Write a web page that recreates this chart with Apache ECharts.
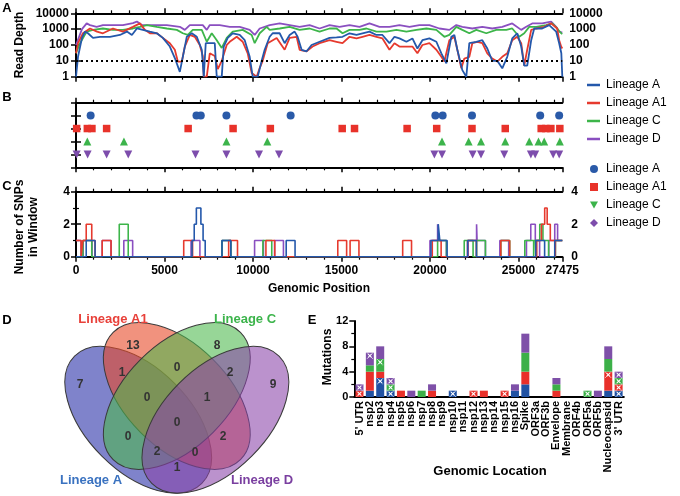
<!DOCTYPE html>
<html><head><meta charset="utf-8">
<script src="https://cdn.jsdelivr.net/npm/echarts@6/dist/echarts.min.js"></script>
<style>html,body{margin:0;padding:0;background:#fff}#c{width:680px;height:496px}</style>
</head><body><div id="c"></div>
<script>
// ---------- DATA ----------
const lineages = ['Lineage A', 'Lineage A1', 'Lineage C', 'Lineage D'];
const genomeLength = 27475;
const depthTicks = [1, 10, 100, 1000, 10000];

// Panel A: read depth, [genomic position, depth]
const depthA = [[0,1],[113,18],[338,280],[508,700],[677,550],[959,280],[1354,330],[1918,330],[2482,430],[2876,700],[3158,430],[3440,1100],[3779,900],[4174,700],[4568,550],[4907,280],[5302,80],[5584,15],[5866,2],[6035,18],[6260,330],[6542,550],[6824,330],[7106,50],[7219,1],[7330,130],[7840,130],[7952,1],[8234,1],[8347,80],[8573,280],[8855,550],[9250,430],[9532,200],[9814,18],[9983,1],[10265,1],[10490,10],[10660,50],[10942,330],[11111,550],[11506,550],[11788,130],[12070,430],[12352,700],[12521,330],[12746,50],[13028,40],[13310,100],[13762,160],[14326,280],[14720,300],[15059,330],[15454,550],[15848,430],[16187,550],[16582,700],[16976,430],[17315,430],[17710,130],[17992,330],[18274,260],[18668,160],[19007,260],[19289,60],[19571,200],[19966,260],[20360,160],[20642,30],[20924,7],[21206,330],[21376,430],[21545,50],[21827,2.6],[22052,1],[22222,130],[22616,160],[22955,200],[23237,60],[23519,10],[23801,10],[24083,3.4],[24365,18],[24647,260],[24929,550],[25154,80],[25324,5],[25493,5],[25718,200],[25888,1100],[26339,1100],[26734,1800],[27128,700],[27298,130],[27420,30],[27475,1]];
const depthA1 = [[0,30],[113,130],[395,550],[790,1100],[1184,700],[1523,550],[2087,1100],[2651,700],[3215,1400],[3610,2300],[3892,900],[4174,550],[4568,550],[4907,280],[5302,130],[5584,50],[5753,9],[5978,9],[6148,80],[6430,430],[6712,330],[6994,100],[7163,20],[7219,1],[7388,1],[7558,30],[7840,20],[8010,3],[8234,10],[8516,100],[8686,160],[9080,330],[9419,160],[9701,30],[9926,1.7],[10208,1],[10378,3.5],[10547,10],[10829,130],[11336,280],[11788,50],[12070,280],[12464,330],[12634,50],[13028,40],[13367,80],[13762,130],[14326,200],[14720,160],[15059,130],[15454,330],[15848,260],[16187,330],[16582,430],[16976,330],[17315,260],[17710,50],[17992,130],[18274,80],[19007,80],[19289,30],[19571,100],[19966,130],[20360,50],[20642,18],[20812,9],[21094,200],[21376,330],[21545,50],[21770,3.4],[21940,14],[22222,18],[22391,130],[22672,160],[22955,130],[23237,30],[23519,14],[23801,9],[24083,18],[24365,30],[24647,200],[24929,330],[25154,130],[25324,5],[25493,50],[25718,900],[25999,1100],[26452,1400],[26846,2300],[27185,1100],[27298,200],[27410,80],[27475,60]];
const depthC = [[0,30],[226,130],[603,700],[959,900],[1523,1100],[2087,900],[2651,900],[3215,1100],[3610,1400],[4004,1800],[4568,1400],[5132,1100],[5696,900],[6035,550],[6317,430],[6599,900],[7106,900],[7388,160],[7670,550],[7952,200],[8234,65],[8516,280],[8855,700],[9419,900],[9926,430],[10096,130],[10378,550],[10772,1400],[10942,900],[11506,1100],[12070,1400],[12634,900],[13198,1100],[13762,700],[14326,1100],[14720,1100],[15059,550],[15454,900],[16018,900],[16412,1100],[16976,700],[17540,700],[18104,900],[18668,700],[19232,900],[19796,1100],[20360,900],[20812,330],[21094,430],[21488,1400],[21827,900],[22222,550],[22616,900],[23180,550],[23744,900],[24308,900],[24647,1100],[25042,330],[25324,550],[25606,1400],[25999,1400],[26564,1800],[26903,2300],[27185,1100],[27410,550],[27475,500]];
const depthD = [[0,100],[338,1000],[603,2300],[790,1800],[1167,1400],[1523,1800],[2087,1800],[2651,1800],[3215,2400],[3440,3000],[3722,1800],[4004,1800],[4568,1800],[5132,1800],[5866,1400],[6148,900],[6430,1800],[7163,1800],[7388,900],[7558,1800],[8122,1800],[8686,1400],[9250,1400],[9814,900],[10096,430],[10378,1100],[10942,1800],[11506,2300],[12070,1800],[12634,1400],[13198,1800],[13762,1100],[14326,1800],[14890,1400],[15454,1800],[16018,1400],[16582,2300],[17146,1400],[17710,1400],[18274,1800],[18838,1400],[19402,1800],[19966,1800],[20530,1100],[21094,900],[21488,1800],[21827,1400],[22391,1100],[22955,1400],[23519,1100],[24083,1400],[24647,2300],[25154,900],[25436,1400],[25775,2300],[26339,2300],[26846,3000],[27128,1400],[27298,700],[27475,600]];
const depthThreshold = 10;

// Panel B: SNP positions
const snpA = [827, 6806, 7050, 8498, 12126, 20304, 20716, 22373, 26226, 27298];
const snpA1 = [37, 640, 900, 1730, 6336, 8875, 10980, 15040, 15736, 18707, 20379, 22373, 24252, 26282, 26547, 26829, 27336];
const snpC = [640, 2707, 8498, 10810, 20680, 22184, 22882, 24252, 25606, 26131, 26452, 27336];
const snpD = [37, 658, 1730, 2951, 6750, 8498, 10340, 11470, 20248, 20680, 22410, 22882, 24196, 25700, 25944, 26959, 27298];

// Panel C: SNPs in window, [position where count changes, new count]
const winA = [[0,0],[577,1],[1077,0],[6556,1],[6680,2],[6800,3],[7056,2],[7180,1],[7300,0],[8248,1],[8748,0],[11876,1],[12376,0],[20054,1],[20466,2],[20554,1],[20966,0],[22123,1],[22623,0],[25976,1],[26476,0],[27048,1],[27475,1]];
const winA1 = [[0,1],[287,0],[390,1],[577,2],[890,1],[1077,0],[1480,1],[1980,0],[6086,1],[6586,0],[8625,1],[9125,0],[10730,1],[11230,0],[14790,1],[15290,0],[15486,1],[15986,0],[18457,1],[18957,0],[20129,1],[20629,0],[22123,1],[22623,0],[24002,1],[24502,0],[26032,1],[26297,2],[26480,3],[26620,2],[26797,1],[27079,0],[27086,1],[27475,1]];
const winC = [[0,0],[390,1],[890,0],[2444,2],[2951,0],[8248,1],[8748,0],[10560,1],[11060,0],[20430,1],[20930,0],[21934,1],[22434,0],[22632,1],[23132,0],[24002,1],[24502,0],[25356,1],[25856,0],[25881,1],[26202,2],[26381,1],[26702,0],[27086,1],[27475,1]];
const winD = [[0,1],[287,0],[408,1],[908,0],[1480,1],[1980,0],[2701,1],[3201,0],[6500,1],[7000,0],[8248,1],[8748,0],[10090,1],[10590,0],[11220,1],[11720,0],[19998,1],[20430,2],[20498,1],[20930,0],[22160,1],[22632,2],[22660,1],[23132,0],[23946,1],[24446,0],[25450,1],[25694,2],[25950,1],[26194,0],[26709,1],[27048,2],[27209,1],[27475,1]];

// Panel D: Venn region counts
const vennRegions = ['A','A1','C','D','A+A1','A1+C','C+D','A+A1+C','A1+C+D','A+A1+C+D','A+C','A1+D','A+C+D','A+A1+D','A+D'];
const vennCounts  = [7, 13, 8, 9, 1, 0, 2, 0, 1, 0, 0, 2, 2, 0, 1];

// Panel E: mutations per genomic location
const genes = ["5' UTR",'nsp2','nsp3','nsp4','nsp5','nsp6','nsp7','nsp8','nsp9','nsp10','nsp11','nsp12','nsp13','nsp14','nsp15','nsp16','Spike','ORF3a','ORF3b','Envelope','Membrane','ORF4b','ORF5a','ORF5b','Nucleocapsid',"3' UTR"];
const mutA  = [0,1,3,1,0,0,0,0,0,1,0,0,0,0,0,1,2,0,0,0,0,0,0,0,1,1];
const mutA1 = [1,3,1,0,1,0,0,1,0,0,0,1,1,0,1,0,2,0,0,1,0,0,0,0,3,1];
const mutC  = [0,1,2,1,0,0,1,0,0,0,0,0,0,0,0,0,3,0,0,1,0,0,1,0,2,1];
const mutD  = [1,2,2,1,0,1,0,1,0,0,0,0,0,0,0,1,3,0,0,1,0,0,0,1,2,1];
const markedA  = ['nsp3','nsp4','nsp10',"3' UTR"];
const markedA1 = ["5' UTR",'nsp12','nsp15','Nucleocapsid',"3' UTR"];
const markedC  = ['nsp3','nsp4','ORF5a',"3' UTR"];
const markedD  = ["5' UTR",'nsp2','nsp4',"3' UTR"];

// ---------- STYLE ----------
const FONT = '"Liberation Sans", Arial, Helvetica, sans-serif';
const lineCol = ['#2458ab', '#e63a2e', '#3db54a', '#8a4fc0'];
const dotCol  = ['#2a5aa8', '#e8322a', '#3cb44b', '#7d4dac'];
const barCol  = ['#2152a3', '#e8302a', '#3cb048', '#7e50a8'];
const vennFill = ['rgba(42,48,168,0.6)', 'rgba(232,74,40,0.6)', 'rgba(76,184,76,0.58)', 'rgba(138,68,168,0.58)'];
const vennText = ['#3a72c0', '#e8413a', '#3cb44b', '#7a3fa0'];
const AX = {color:'#000', width:2};
const TK = {color:'#000', width:1.5};
const LBL = {color:'#000', fontWeight:'bold', fontSize:12, fontFamily:FONT};

const chart = echarts.init(document.getElementById('c'));

const gridW = 486.3;
const grids = [
  {left:76, top:13.3, width:gridW, height:63.4},
  {left:76, top:102.7, width:gridW, height:64.6},
  {left:76, top:191.7, width:gridW, height:65},
  {left:354.3, top:321, width:269.5, height:76}
];

function xGen(grid, pos, showLabel) {
  return {type:'value', gridIndex:grid, position:pos, min:0, max:genomeLength, interval:5000,
    axisLine:{show:true, onZero:false, lineStyle:AX},
    axisTick:{show:true, length:5, lineStyle:TK},
    minorTick:{show:true, splitNumber:5, length:3, lineStyle:{color:'#000', width:1.2}},
    splitLine:{show:false}, minorSplitLine:{show:false},
    axisLabel:Object.assign({show:showLabel, margin:8, formatter:v=>String(Math.round(v))}, LBL)};
}
function yLog(pos) {
  return {type:'log', logBase:10, gridIndex:0, position:pos, min:depthTicks[0], max:depthTicks[depthTicks.length-1],
    axisLine:{show:true, lineStyle:AX}, axisTick:{show:true, length:5, lineStyle:TK},
    splitLine:{show:false},
    axisLabel:Object.assign({margin:7, formatter:v=>String(Math.round(v))}, LBL)};
}
function yRows(pos) {
  return {type:'value', gridIndex:1, position:pos, min:0, max:5, interval:1,
    axisLine:{show:true, lineStyle:AX}, axisTick:{show:true, length:5, lineStyle:TK},
    splitLine:{show:false}, axisLabel:{show:false}};
}
function yCount(pos) {
  return {type:'value', gridIndex:2, position:pos, min:0, max:4, interval:2,
    axisLine:{show:true, lineStyle:AX}, axisTick:{show:true, length:5, lineStyle:TK},
    minorTick:{show:true, splitNumber:2, length:3, lineStyle:{color:'#000', width:1.2}},
    splitLine:{show:false}, minorSplitLine:{show:false},
    axisLabel:Object.assign({margin:pos==='left'?6:9}, LBL)};
}

const xAxis = [
  xGen(0,'bottom',false), xGen(0,'top',false),
  xGen(1,'bottom',false), xGen(1,'top',false),
  xGen(2,'bottom',true),  xGen(2,'top',false),
  {type:'category', gridIndex:3, data:genes, boundaryGap:true,
   axisLine:{show:true, lineStyle:AX}, axisTick:{show:false},
   axisLabel:{interval:0, rotate:90, margin:4, color:'#000', fontWeight:'bold', fontSize:11, fontFamily:FONT}}
];
const yAxis = [
  yLog('left'), yLog('right'),
  yRows('left'), yRows('right'),
  yCount('left'), yCount('right'),
  {type:'value', gridIndex:3, min:0, max:12, interval:4,
   axisLine:{show:true, lineStyle:AX}, axisTick:{show:true, length:5, lineStyle:TK},
   minorTick:{show:true, splitNumber:2, length:3, lineStyle:{color:'#000', width:1.2}},
   splitLine:{show:false}, minorSplitLine:{show:false},
   axisLabel:Object.assign({margin:6}, LBL, {fontSize:11})}
];

const series = [];
// Panel A lines (drawn D, C, A1, A so blue is on top)
const depths = [depthA, depthA1, depthC, depthD];
[3,2,1,0].forEach(i => {
  const s = {name:lineages[i], type:'line', xAxisIndex:0, yAxisIndex:0, data:depths[i],
    symbol:'none', silent:true, lineStyle:{color:lineCol[i], width:1.8}, itemStyle:{color:lineCol[i]}, z:3};
  if (i === 0) {
    s.markLine = {silent:true, symbol:['none','none'], label:{show:false},
      lineStyle:{color:'#000', type:[2,3], width:2}, data:[{yAxis:depthThreshold}]};
  }
  series.push(s);
});
// Panel B scatter
const snps = [snpA, snpA1, snpC, snpD];
const rowVal = [4, 3, 2, 1];
const syms = ['circle', 'rect', 'triangle', 'triangle'];
const rots = [0, 0, 0, 180];
snps.forEach((arr, i) => {
  series.push({name:lineages[i] + ' ', type:'scatter', xAxisIndex:2, yAxisIndex:2,
    data:arr.map(p => [p, rowVal[i]]), symbol:syms[i], symbolRotate:rots[i],
    symbolSize:i===1?7.5:8, itemStyle:{color:dotCol[i], opacity:1}, silent:true, z:4});
});
// Panel C step lines
const wins = [winA, winA1, winC, winD];
[3,2,1,0].forEach(i => {
  series.push({name:'win ' + lineages[i], type:'line', xAxisIndex:4, yAxisIndex:4, data:wins[i],
    step:'end', symbol:'none', silent:true, lineStyle:{color:lineCol[i], width:1.6}, z:3});
});
// Panel E stacked bars
const muts = [mutA, mutA1, mutC, mutD];
muts.forEach((arr, i) => {
  series.push({name:'mut ' + lineages[i], type:'bar', xAxisIndex:6, yAxisIndex:6, stack:'mut',
    data:arr, barWidth:8, itemStyle:{color:barCol[i]}, silent:true});
});
// Panel E white markers placed in the top unit of the marked segments
const marks = [markedA, markedA1, markedC, markedD];
const markPts = [];
marks.forEach((list, i) => {
  list.forEach(g => {
    const k = genes.indexOf(g);
    let top = 0;
    for (let j = 0; j <= i; j++) top += muts[j][k];
    markPts.push([g, top - 0.5]);
  });
});
series.push({name:'marks', type:'scatter', xAxisIndex:6, yAxisIndex:6, data:markPts,
  symbol:'path://M2,1L4,3L6,1L7,2L5,4L7,6L6,7L4,5L2,7L1,6L3,4L1,2Z M0,0h1v1h-1Z M7,0h1v1h-1Z M0,7h1v1h-1Z M7,7h1v1h-1Z',
  symbolSize:6, itemStyle:{color:'#fff', opacity:1}, silent:true, z:5});

// ---------- GRAPHIC (labels + Venn) ----------
const graphic = [];
function txt(t, x, y, opt) {
  opt = opt || {};
  graphic.push({type:'text', x:x, y:y, rotation:opt.rot || 0, silent:true, z:10,
    style:{text:t, fill:opt.color || '#000', fontSize:opt.size || 12, fontWeight:opt.weight || 'bold',
      fontFamily:FONT, align:opt.align || 'center', verticalAlign:'middle', lineHeight:opt.lh || undefined}});
}
txt('A', 7, 8.5, {size:13});
txt('B', 7, 97.5, {size:13});
txt('C', 7, 186.5, {size:13});
txt('D', 7, 320, {size:13});
txt('E', 312, 320, {size:13});
txt('Read Depth', 20, 45, {rot:Math.PI/2});
txt('Number of SNPs\nin Window', 27, 227, {rot:Math.PI/2, lh:14});
txt('Genomic Position', 319, 289);
txt('Mutations', 328, 357, {rot:Math.PI/2});
txt('Genomic Location', 490, 471.5, {size:13});

// Venn ellipses: A, A1, C, D
const ell = [
  {x:138.2, y:419.8, r:-Math.PI/4},
  {x:176.8, y:396, r:-Math.PI/4},
  {x:176.8, y:396, r:Math.PI/4},
  {x:215.4, y:419.8, r:Math.PI/4}
];
ell.forEach((e, i) => {
  graphic.push({type:'ellipse', x:e.x, y:e.y, rotation:e.r, silent:true, z:1,
    shape:{cx:0, cy:0, rx:90, ry:51.4},
    style:{fill:vennFill[i], stroke:'#3a3a3a', lineWidth:1}});
});
const vennPos = [[80,385],[133,346],[217,346],[273,385],[122,373],[177,368],[230,373],[147,398],[207,398],[177,423],[128,437],[223,437],[157,452],[195,453],[177,468]];
vennCounts.forEach((c, i) => {
  txt(String(c), vennPos[i][0], vennPos[i][1], {color:'#333', size:12});
});
const vennLabelPos = [[91,480],[113,319],[245,319],[262,480]];
lineages.forEach((n, i) => {
  txt(n, vennLabelPos[i][0], vennLabelPos[i][1], {color:vennText[i], size:13});
});

chart.setOption({
  animation:false,
  backgroundColor:'#fff',
  textStyle:{fontFamily:FONT},
  grid:grids,
  xAxis:xAxis,
  yAxis:yAxis,
  legend:[
    {data:lineages, left:582, top:73, orient:'vertical', icon:'rect', itemWidth:13, itemHeight:2.5,
     itemGap:4, selectedMode:false,
     textStyle:{color:'#000', fontSize:12, fontFamily:FONT, lineHeight:14, padding:[0,0,0,1]}},
    {data:[
      {name:'Lineage A ', icon:'circle'},
      {name:'Lineage A1 ', icon:'rect'},
      {name:'Lineage C ', icon:'path://M0,0L10,0L5,9Z'},
      {name:'Lineage D ', icon:'diamond'}],
     left:585, top:157, orient:'vertical', itemWidth:8, itemHeight:8, itemGap:4, selectedMode:false,
     formatter:n => n.trim(),
     textStyle:{color:'#000', fontSize:12, fontFamily:FONT, lineHeight:14, padding:[0,0,0,3]}}
  ],
  graphic:graphic,
  series:series
});
</script></body></html>
